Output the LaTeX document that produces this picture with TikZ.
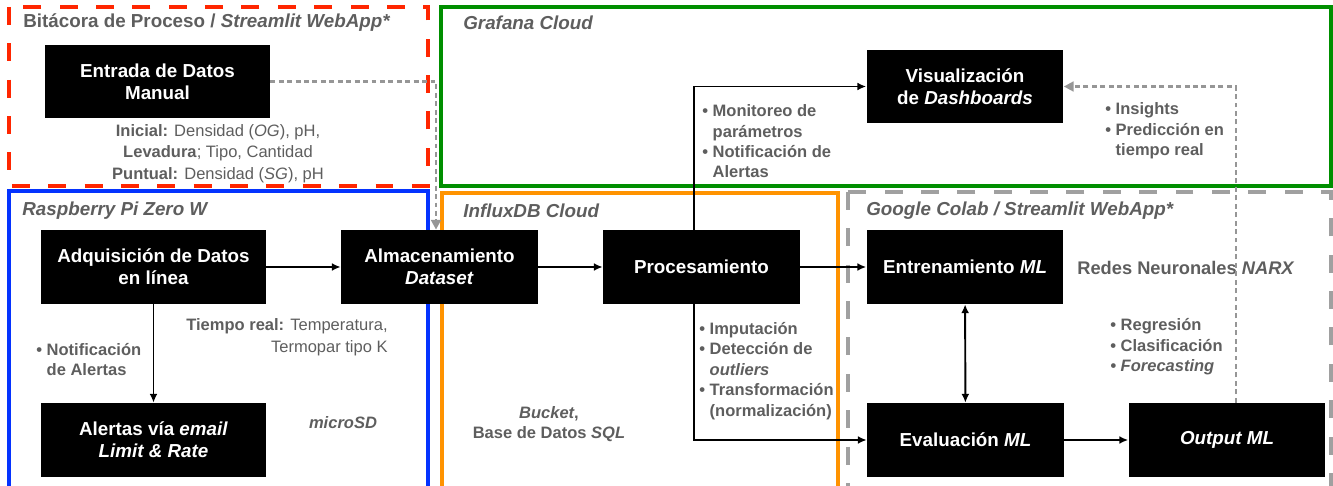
\documentclass[tikz,border=0pt]{standalone}
\usepackage{fontspec}
\setmainfont{Liberation Sans}
\usetikzlibrary{arrows.meta}
\definecolor{txtgray}{RGB}{94,94,94}
\definecolor{dotgray}{RGB}{150,150,150}
\definecolor{dashgray}{RGB}{160,160,160}
\definecolor{keyred}{RGB}{255,38,0}
\definecolor{keyblue}{RGB}{4,51,255}
\definecolor{keygreen}{RGB}{0,143,0}
\definecolor{keyorange}{RGB}{255,147,0}
\newcommand{\bul}{\textbullet\ }
\newcommand{\ind}{\hphantom{\textbullet\ }}

\begin{document}
\begin{tikzpicture}[x=0.02cm, y=-0.02cm,
  blackbox/.style={fill=black, text=white, font=\fontsize{10.7}{12.5}\selectfont\bfseries, align=center, minimum width=3.94cm, minimum height=1.48cm, inner sep=0pt},
  widebox/.style={blackbox, minimum width=4.5cm},
  note/.style={text=txtgray, font=\fontsize{9.4}{11.6}\selectfont\bfseries, inner sep=0pt},
  notereg/.style={text=txtgray, font=\fontsize{9.4}{12.3}\selectfont, inner sep=0pt},
  title/.style={text=txtgray, font=\fontsize{10.7}{13}\selectfont\bfseries, inner sep=0pt, anchor=west},
  flow/.style={line width=1.1pt, -{Latex[length=5pt,width=4.5pt]}},
  hint/.style={draw=dotgray, line width=1.5pt, dash pattern=on 2.8pt off 2pt, -{Triangle[length=5.5pt,width=5.5pt]}}
]
\clip (0,0) rectangle (1333,486);

% frames
\draw[keyred, line width=2.2pt, dash pattern=on 10.2pt off 10.5pt] (9,7) rectangle (428,186);	%bitacora
\draw[keyblue, line width=1.8pt] (9,191) rectangle (428,500);	%raspberry
\draw[keygreen, line width=1.8pt] (441,7) rectangle (1331,186);	%grafana
\draw[keyorange, line width=1.8pt] (442,193) rectangle (838,500);	%influxdb
\draw[dashgray, line width=2.2pt, dash pattern=on 10.2pt off 10.5pt] (848,192) rectangle (1331,500);	%colab

% frame titles
\node[title] (tbit) at (23,23) {Bitácora de Proceso / \textit{Streamlit WebApp*}};
\node[title] (tgraf) at (463,23) {\itshape Grafana Cloud};
\node[title] (trasp) at (22,211) {\itshape Raspberry Pi Zero W};
\node[title] (tinflux) at (463,211) {\itshape InfluxDB Cloud};
\node[title] (tcolab) at (866,211) {\itshape Google Colab / Streamlit WebApp*};

% boxes
\node[widebox] (entrada) at (157.5,81.5) {Entrada de Datos\\Manual};
\node[widebox] (adq) at (153.5,267) {Adquisición de Datos\\en línea};
\node[widebox] (alertas) at (153.5,440) {Alertas vía \textit{email}\\\textit{Limit \& Rate}};
\node[blackbox] (almac) at (439.5,267) {Almacenamiento\\\textit{Dataset}};
\node[blackbox] (proc) at (701.5,267) {Procesamiento};
\node[blackbox] (visual) at (965,86.5) {Visualización\\de \textit{Dashboards}};
\node[blackbox] (entren) at (965,267) {Entrenamiento \textit{ML}};
\node[blackbox] (eval) at (965.5,440) {Evaluación \textit{ML}};
\node[blackbox] (output) at (1227,440) {\textit{Output ML}};

% notes
\node[notereg, align=center] (manual) at (218,153.5) {\textbf{Inicial:} Densidad (\textit{OG}), pH,\\\textbf{Levadura}; Tipo, Cantidad\\\textbf{Puntual:} Densidad (\textit{SG}), pH};
\node[notereg, align=right, anchor=east] (treal) at (388,337) {\textbf{Tiempo real:} Temperatura,\\Termopar tipo K};
\node[note, align=left, anchor=west] (notif) at (36,359.5) {\bul Notificación\\\ind de Alertas};
\node[note, font=\fontsize{9.4}{11.6}\selectfont\bfseries\itshape] (microsd) at (343,423) {microSD};
\node[note, align=center] (bucket) at (549,424) {\textit{Bucket},\\Base de Datos \textit{SQL}};
\node[note, align=left, anchor=west] (monit) at (702,141.5) {\bul Monitoreo de\\\ind parámetros\\\bul Notificación de\\\ind Alertas};
\node[note, align=left, anchor=west] (prep) at (699,371) {\bul Imputación\\\bul Detección de\\\ind\textit{outliers}\\\bul Transformación\\\ind(normalización)};
\node[note, align=left, anchor=west] (insight) at (1105,131) {\bul Insights\\\bul Predicción en\\\ind tiempo real};
\node[note, font=\fontsize{10.4}{12}\selectfont\bfseries, anchor=west] (narx) at (1077,268) {Redes Neuronales \textit{NARX}};
\node[note, align=left, anchor=west] (tasks) at (1110,347) {\bul Regresión\\\bul Clasificación\\\textit{\bul Forecasting}};

% connectors
\draw[flow] (adq) -- (almac);
\draw[flow] (adq) -- (alertas);
\draw[flow] (almac) -- (proc);
\draw[flow] (proc) -- (entren);
\draw[flow] ([xshift=-0.15cm]proc.north) |- (visual.west);
\draw[flow] ([xshift=-0.15cm]proc.south) |- (eval.west);
\draw[flow, {Latex[length=5pt,width=4.5pt]}-{Latex[length=5pt,width=4.5pt]}] (entren) -- (eval);
\draw[flow] (eval) -- (output);
\draw[hint] (entrada.east) -| ([xshift=-0.07cm]almac.north);
\draw[hint] ([xshift=0.18cm]output.north) |- (visual.east);

\end{tikzpicture}
\end{document}
